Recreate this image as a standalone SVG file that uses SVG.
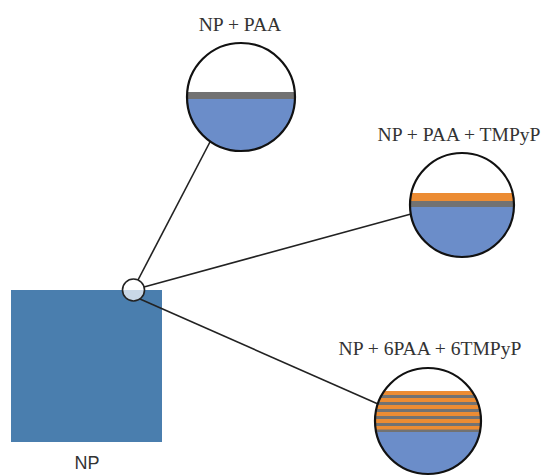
<svg xmlns="http://www.w3.org/2000/svg" width="542" height="476" viewBox="0 0 542 476">
  <style>
    .lbl { font-family: "Liberation Serif", "Times New Roman", serif; font-size: 19.6px; fill: #333; text-anchor: middle; }
    .np { font-family: "Liberation Sans", Arial, sans-serif; font-size: 18px; fill: #333; text-anchor: middle; }
    .conn { stroke: #222; stroke-width: 1.6; fill: none; }
    .rim { fill: none; stroke: #111; stroke-width: 2.2; }
    .liquid { fill: #6b8dc9; }
    .paa { fill: #727272; }
    .tmp { fill: #ec8c33; }
  </style>
  <defs>
    <clipPath id="c1"><circle cx="241" cy="97" r="54"/></clipPath>
    <clipPath id="c2"><circle cx="462" cy="205" r="52"/></clipPath>
    <clipPath id="c3"><circle cx="428" cy="421" r="53"/></clipPath>
  </defs>

  <rect width="542" height="476" fill="#fff"/>

  <!-- substrate -->
  <g id="np">
    <rect x="11" y="290" width="151" height="152" fill="#4a7eae"/>
    <text class="np" x="87" y="469">NP</text>
  </g>

  <!-- connectors from the spot to each magnified view -->
  <g id="connectors">
    <line class="conn" x1="138" y1="280" x2="211" y2="140"/>
    <line class="conn" x1="144" y1="287" x2="411" y2="214"/>
    <line class="conn" x1="140" y1="299" x2="378" y2="404"/>
  </g>

  <g id="spot">
    <circle cx="133.5" cy="290" r="11" fill="#fff" fill-opacity="0.7" stroke="#222" stroke-width="1.6"/>
  </g>

  <!-- NP + PAA -->
  <g id="view-paa">
    <circle cx="241" cy="97" r="54" fill="#fff"/>
    <g clip-path="url(#c1)">
      <rect class="paa" x="180" y="92" width="130" height="7"/>
      <rect class="liquid" x="180" y="99" width="130" height="60"/>
    </g>
    <circle class="rim" cx="241" cy="97" r="54"/>
    <text class="lbl" x="240" y="31">NP + PAA</text>
  </g>

  <!-- NP + PAA + TMPyP -->
  <g id="view-paa-tmpyp">
    <circle cx="462" cy="205" r="52" fill="#fff"/>
    <g clip-path="url(#c2)">
      <rect class="tmp" x="405" y="193" width="120" height="8"/>
      <rect class="paa" x="405" y="201" width="120" height="6"/>
      <rect class="liquid" x="405" y="207" width="120" height="60"/>
    </g>
    <circle class="rim" cx="462" cy="205" r="52"/>
    <text class="lbl" x="459" y="141">NP + PAA + TMPyP</text>
  </g>

  <!-- NP + 6PAA + 6TMPyP -->
  <g id="view-6-layers">
    <circle cx="428" cy="421" r="53" fill="#fff"/>
    <g clip-path="url(#c3)">
      <rect class="paa" x="370" y="391" width="120" height="41"/>
      <rect class="tmp" x="370" y="391" width="120" height="4"/>
      <rect class="tmp" x="370" y="398" width="120" height="4"/>
      <rect class="tmp" x="370" y="405" width="120" height="4"/>
      <rect class="tmp" x="370" y="412" width="120" height="4"/>
      <rect class="tmp" x="370" y="419" width="120" height="4"/>
      <rect class="tmp" x="370" y="426" width="120" height="3.5"/>
      <rect class="liquid" x="370" y="432" width="120" height="50"/>
    </g>
    <circle class="rim" cx="428" cy="421" r="53"/>
    <text class="lbl" x="430" y="355">NP + 6PAA + 6TMPyP</text>
  </g>
</svg>
